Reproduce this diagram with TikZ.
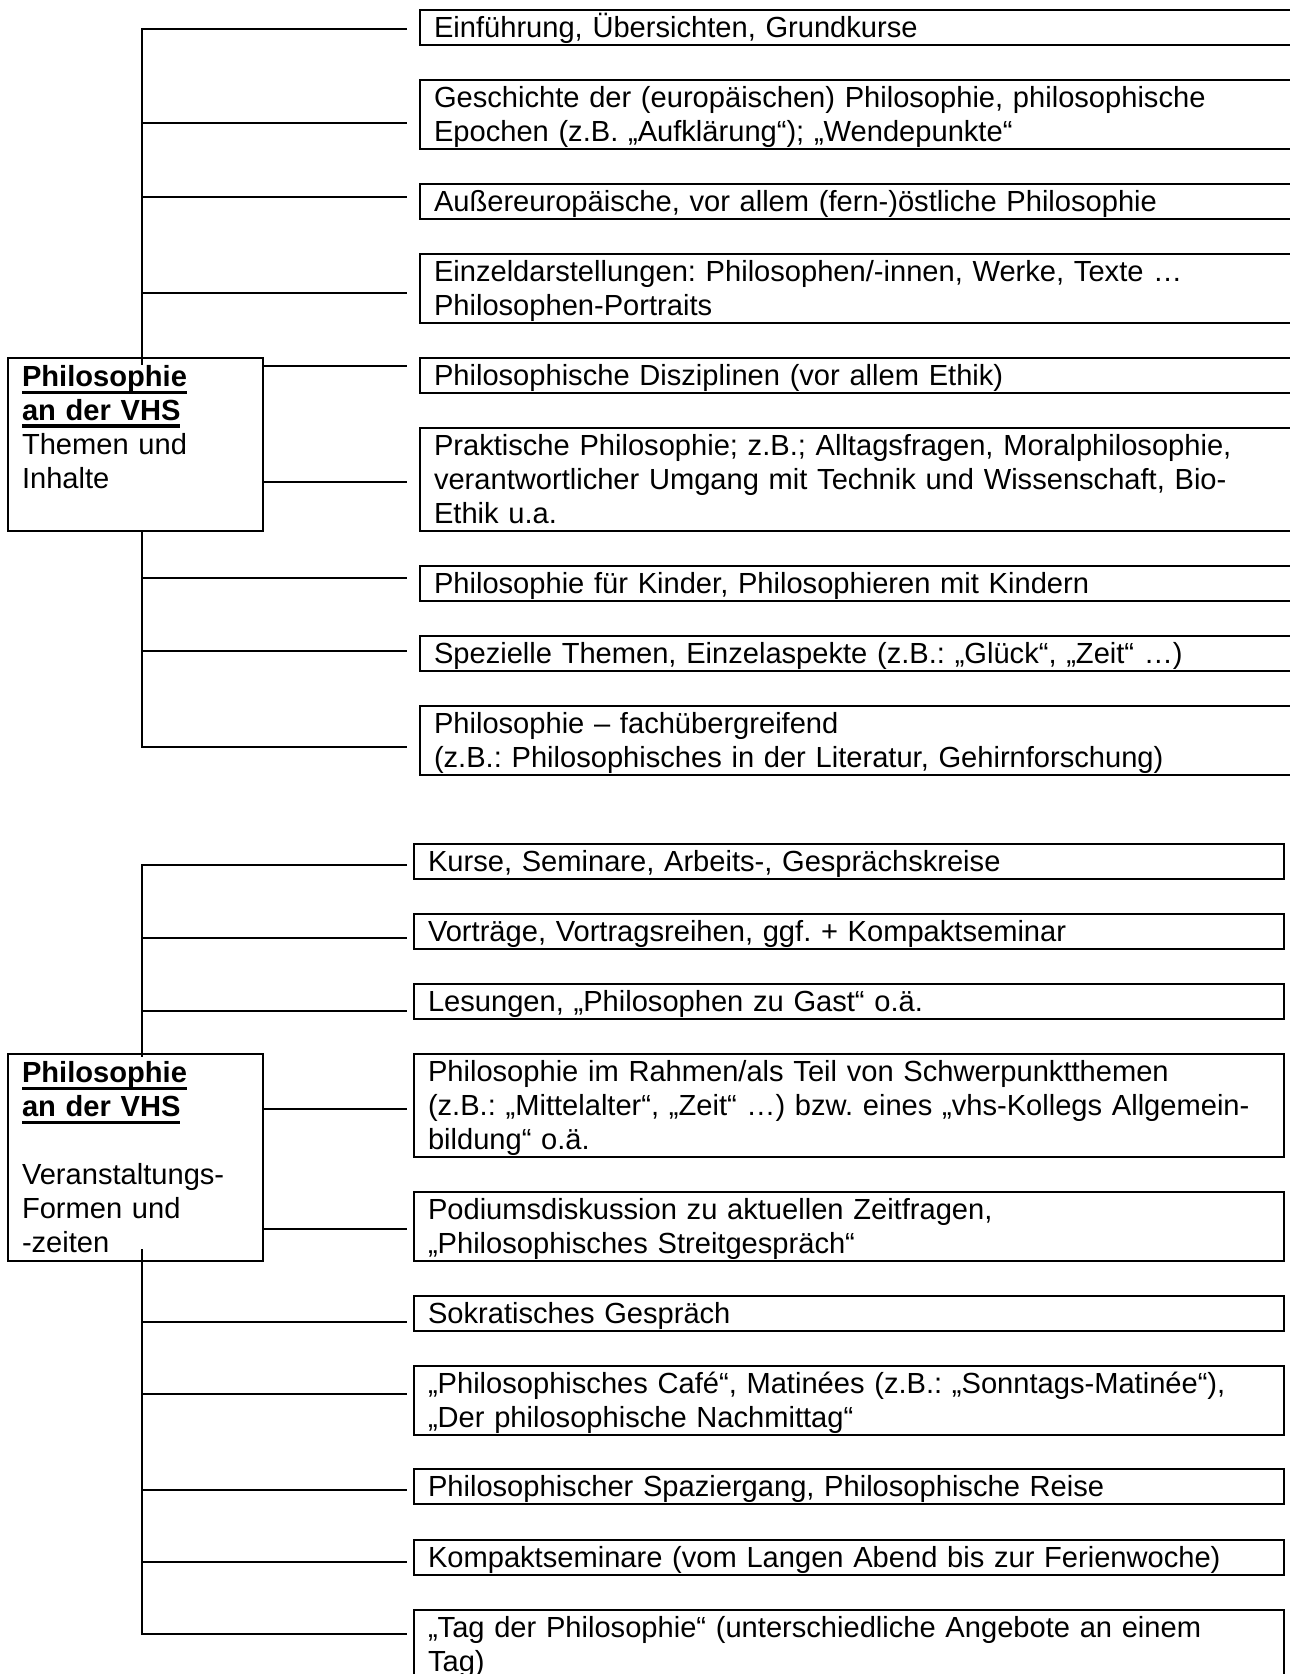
\documentclass[tikz,border=0pt]{standalone}
\usepackage{fontspec}
\setmainfont{Liberation Sans}
\newcommand\mystrut{\rule[-3.5pt]{0pt}{17pt}}
\newcommand\ulbox[1]{\leavevmode\setbox0\hbox{#1}\rlap{\rule[-3.6pt]{\wd0}{1.6pt}}\box0}
\begin{document}
\begin{tikzpicture}[x=0.5pt,y=-0.5pt,
  box/.style={draw, line width=1pt, anchor=north west, align=left,
    inner xsep=7pt, inner ysep=0.25pt,
    font=\fontsize{14.55}{17}\selectfont\frenchspacing,
    execute at begin node=\mystrut, execute at end node=\mystrut},
  topbox/.style={box, text width=460pt},
  lowbox/.style={box, text width=421pt},
  headbox/.style={box, text width=113.5pt, inner ysep=0.75pt},
  conn/.style={line width=1pt}]
\useasboundingbox (0,0) rectangle (1289,1674);

% ---------- top section ----------
\node[headbox] (L1) at (7,357) {\ulbox{\textbf{Philosophie}}\\\ulbox{\textbf{an der VHS}}\\Themen und\\Inhalte\\\mbox{}};

\node[topbox] (b1) at (419,9) {Einführung, Übersichten, Grundkurse};
\node[topbox] (b2) at (419,79) {Geschichte der (europäischen) Philosophie, philosophische\\Epochen (z.B. „Aufklärung“); „Wendepunkte“};
\node[topbox] (b3) at (419,183) {Außereuropäische, vor allem (fern-)östliche Philosophie};
\node[topbox] (b4) at (419,253) {Einzeldarstellungen: Philosophen/-innen, Werke, Texte …\\Philosophen-Portraits};
\node[topbox] (b5) at (419,357) {Philosophische Disziplinen (vor allem Ethik)};
\node[topbox] (b6) at (419,427) {Praktische Philosophie; z.B.; Alltagsfragen, Moralphilosophie,\\verantwortlicher Umgang mit Technik und Wissenschaft, Bio-\\Ethik u.a.};
\node[topbox] (b7) at (419,565) {Philosophie für Kinder, Philosophieren mit Kindern};
\node[topbox] (b8) at (419,635) {Spezielle Themen, Einzelaspekte (z.B.: „Glück“, „Zeit“ …)};
\node[topbox] (b9) at (419,705) {Philosophie – fachübergreifend\\(z.B.: Philosophisches in der Literatur, Gehirnforschung)};

\coordinate (tB) at (142,365);
\coordinate (e1) at (407,29);
\coordinate (e2) at (407,123);
\coordinate (e3) at (407,197);
\coordinate (e4) at (407,293);
\coordinate (e5) at (407,366);
\coordinate (e6) at (407,482);
\coordinate (e7) at (407,578);
\coordinate (e8) at (407,651);
\coordinate (e9) at (407,747);

\draw[conn] (e1) -| (tB);
\draw[conn] (tB |- e2) -- (e2);
\draw[conn] (tB |- e3) -- (e3);
\draw[conn] (tB |- e4) -- (e4);
\draw[conn] (L1.east |- e5) -- (e5);
\draw[conn] (L1.east |- e6) -- (e6);
\draw[conn] (tB |- L1.south) |- (e9);
\draw[conn] (tB |- e7) -- (e7);
\draw[conn] (tB |- e8) -- (e8);

% ---------- bottom section ----------
\node[headbox] (L2) at (7,1053) {\ulbox{\textbf{Philosophie}}\\\ulbox{\textbf{an der VHS}}\\\mbox{}\\Veranstaltungs-\\Formen und\\-zeiten};

\node[lowbox] (c1) at (413,843) {Kurse, Seminare, Arbeits-, Gesprächskreise};
\node[lowbox] (c2) at (413,913) {Vorträge, Vortragsreihen, ggf. + Kompaktseminar};
\node[lowbox] (c3) at (413,983) {Lesungen, „Philosophen zu Gast“ o.ä.};
\node[lowbox] (c4) at (413,1053) {Philosophie im Rahmen/als Teil von Schwerpunktthemen\\(z.B.: „Mittelalter“, „Zeit“ …) bzw. eines „vhs-Kollegs Allgemein-\\bildung“ o.ä.};
\node[lowbox] (c5) at (413,1191) {Podiumsdiskussion zu aktuellen Zeitfragen,\\„Philosophisches Streitgespräch“};
\node[lowbox] (c6) at (413,1295) {Sokratisches Gespräch};
\node[lowbox] (c7) at (413,1365) {„Philosophisches Café“, Matinées (z.B.: „Sonntags-Matinée“),\\„Der philosophische Nachmittag“};
\node[lowbox] (c8) at (413,1468) {Philosophischer Spaziergang, Philosophische Reise};
\node[lowbox] (c9) at (413,1539) {Kompaktseminare (vom Langen Abend bis zur Ferienwoche)};
\node[lowbox] (c10) at (413,1609) {„Tag der Philosophie“ (unterschiedliche Angebote an einem\\Tag)};

\coordinate (uB) at (142,1057);
\coordinate (uC) at (142,1249);
\coordinate (f1) at (407,865);
\coordinate (f2) at (407,938);
\coordinate (f3) at (407,1011);
\coordinate (f4) at (407,1109);
\coordinate (f5) at (407,1229);
\coordinate (f6) at (407,1322);
\coordinate (f7) at (407,1394);
\coordinate (f8) at (407,1490);
\coordinate (f9) at (407,1562);
\coordinate (f10) at (407,1634);

\draw[conn] (f1) -| (uB);
\draw[conn] (uB |- f2) -- (f2);
\draw[conn] (uB |- f3) -- (f3);
\draw[conn] (L2.east |- f4) -- (f4);
\draw[conn] (L2.east |- f5) -- (f5);
\draw[conn] (uC) |- (f10);
\draw[conn] (uC |- f6) -- (f6);
\draw[conn] (uC |- f7) -- (f7);
\draw[conn] (uC |- f8) -- (f8);
\draw[conn] (uC |- f9) -- (f9);
\end{tikzpicture}
\end{document}
